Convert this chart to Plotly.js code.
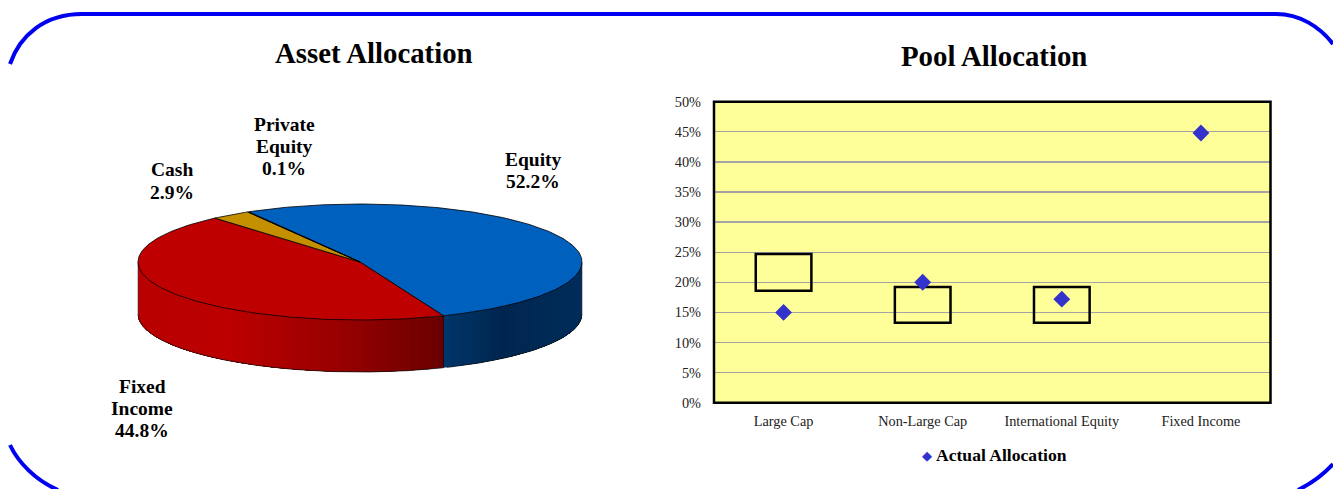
<!DOCTYPE html>
<html>
<head>
<meta charset="utf-8">
<script src="https://cdn.plot.ly/plotly-3.0.1.min.js"></script>
<style>html,body{margin:0;padding:0;background:#fff;overflow:hidden}#chart{width:1333px;height:489px}</style>
</head>
<body>
<div id="chart"></div>
<script>
// ---- data ----
const assetNames  = ["Equity", "Fixed Income", "Cash", "Private Equity"];
const assetShares = [52.2, 44.8, 2.9, 0.1];
const poolCategories = ["Large Cap", "Non-Large Cap", "International Equity", "Fixed Income"];
const actualAllocation = [15, 20, 17.2, 44.8];
const rangeLow  = [18.6, 13.3, 13.3, null];
const rangeHigh = [24.7, 19.2, 19.2, null];
const yTicks = [0,5,10,15,20,25,30,35,40,45,50];

// ---- page geometry ----
const W = 1333, H = 489;
const FONT = '"Liberation Serif","Times New Roman",serif';
const px = x => x / W, py = y => 1 - y / H;
const plot = {l:714, r:1270.5, t:101.7, b:402.7};

// pie geometry: unit ellipse mapped to pixels by the second axis pair
const pie = {cx:360, cy:262, rx:222, ry:58, depth:52, start:-30};
const pieColors = ["#0060BE", "#BE0000", "#C49000", "#C49000"];
const wallStops = [
  [[138,[184,0,0]],[230,[188,0,0]],[340,[152,0,0]],[443,[106,0,0]]],
  [[443,[0,54,106]],[500,[0,38,79]],[582,[0,44,90]]]
];
const depthUnits = pie.depth / pie.ry;
const rad = d => d * Math.PI / 180;
const ex = a => Math.sin(rad(a));
const ey = a => Math.cos(rad(a));

function wallColor(stops, a) {
  const x = pie.cx + pie.rx * ex(a);
  if (x <= stops[0][0]) return `rgb(${stops[0][1].join(',')})`;
  for (let i = 1; i < stops.length; i++) {
    if (x <= stops[i][0]) {
      const f = (x - stops[i-1][0]) / (stops[i][0] - stops[i-1][0]);
      const c = stops[i-1][1].map((v, k) => Math.round(v + (stops[i][1][k] - v) * f));
      return `rgb(${c.join(',')})`;
    }
  }
  return `rgb(${stops[stops.length-1][1].join(',')})`;
}

const pieTraces = [];
const base = {xaxis:'x2', yaxis:'y2', type:'scatter', mode:'lines', hoverinfo:'skip', showlegend:false};
const edge = 'rgba(20,20,20,0.75)';

// wedge angles from shares
let acc = pie.start;
const wedges = assetShares.map((s, i) => {
  const w = {a0:acc, a1:acc + s * 3.6, i};
  acc = w.a1;
  return w;
});

// side wall: visible only on the front half of the ellipse.
// Each strip runs from its own start to the far end of the wedge, so later strips
// paint over earlier ones with no seam between them.
wedges.forEach(w => {
  const from = Math.max(w.a0, 90), to = Math.min(w.a1, 270);
  if (to <= from) return;
  const stops = w.i === 0 ? wallStops[1] : wallStops[0];
  const step = 3;
  const dir = w.i === 0 ? -1 : 1;
  const starts = [];
  for (let a = from; a < to; a += step) starts.push(a);
  if (dir < 0) starts.reverse();
  starts.forEach(a => {
    const c = wallColor(stops, a + step / 2);
    const xs = [], ys = [];
    const lo = dir > 0 ? a : from, hi = dir > 0 ? to : Math.min(a + step, to);
    const n = Math.max(1, Math.ceil(hi - lo));
    for (let k = 0; k <= n; k++) { const t = lo + (hi - lo) * k / n; xs.push(ex(t)); ys.push(ey(t)); }
    for (let k = n; k >= 0; k--) { const t = lo + (hi - lo) * k / n; xs.push(ex(t)); ys.push(ey(t) - depthUnits); }
    xs.push(xs[0]); ys.push(ys[0]);
    pieTraces.push(Object.assign({}, base, {x:xs, y:ys, fill:'toself', fillcolor:c, line:{color:c, width:0}}));
  });
  // bottom rim
  const bx = [], by = [];
  for (let a = from; a <= to + 0.001; a += 1) { bx.push(ex(Math.min(a,to))); by.push(ey(Math.min(a,to)) - depthUnits); }
  pieTraces.push(Object.assign({}, base, {x:bx, y:by, line:{color:edge, width:1}}));
});
// vertical edges of the wall
[90, 270, wedges[0].a1].forEach(a => {
  pieTraces.push(Object.assign({}, base, {
    x:[ex(a), ex(a)], y:[ey(a), ey(a)-depthUnits],
    line:{color: a === wedges[0].a1 ? 'rgba(0,0,0,0.85)' : 'rgba(60,60,60,0.6)', width:1}
  }));
});
// top faces
wedges.forEach(w => {
  const xs = [0], ys = [0];
  const n = Math.max(2, Math.ceil(w.a1 - w.a0));
  for (let k = 0; k <= n; k++) {
    const a = w.a0 + (w.a1 - w.a0) * k / n;
    xs.push(ex(a)); ys.push(ey(a));
  }
  xs.push(0); ys.push(0);
  pieTraces.push(Object.assign({}, base, {
    x:xs, y:ys, fill:'toself', fillcolor:pieColors[w.i],
    line:{color:'rgba(0,0,0,0.8)', width:1}
  }));
});

// ---- pool allocation ----
const rangeBars = {
  type:'bar', x:poolCategories, y:rangeHigh.map((h,i) => h === null ? null : h - rangeLow[i]),
  base:rangeLow, width:0.4, xaxis:'x', yaxis:'y', showlegend:false, hoverinfo:'skip',
  marker:{color:'rgba(0,0,0,0)', line:{color:'#000', width:2.5}}
};
const actualTrace = {
  type:'scatter', mode:'markers', x:poolCategories, y:actualAllocation, xaxis:'x', yaxis:'y',
  showlegend:false, name:'Actual Allocation',
  marker:{symbol:'diamond', size:13, color:'#3333CC'}
};
const legendTrace = {
  type:'scatter', mode:'markers', x:[null], y:[null], xaxis:'x', yaxis:'y',
  name:'Actual Allocation', marker:{symbol:'diamond', size:8, color:'rgba(0,0,0,0)'}
};

// ---- text ----
const ann = (text, x, y, size, bold=true, color='#000') => ({
  text: bold ? `<b>${text}</b>` : text, xref:'paper', yref:'paper', x:px(x), y:py(y),
  xanchor:'center', yanchor:'middle', showarrow:false,
  font:{family:FONT, size:size, color:color}
});
const pct = s => s.toFixed(1) + '%';
const lines = [
  ['Asset Allocation', 374, 52.5, 28.8],
  ['Pool Allocation', 994, 56.5, 28.8],
  ['Private', 284, 124.5, 19.5],
  ['Equity', 284, 146.5, 19.5],
  [pct(assetShares[3]), 284, 168.5, 19.5],
  ['Cash', 172, 170, 19.5],
  [pct(assetShares[2]), 172, 192.5, 19.5],
  ['Equity', 533, 160, 19.5],
  [pct(assetShares[0]), 533, 181.5, 19.5],
  ['Fixed', 142, 386.5, 19.5],
  ['Income', 142, 408.5, 19.5],
  [pct(assetShares[1]), 142, 430.5, 19.5]
];
const annotations = lines.map(l => ann(l[0], l[1], l[2], l[3]));
// legend key glyph
annotations.push({text:'\u25C6', xref:'paper', yref:'paper', x:px(927), y:py(455), xanchor:'center', yanchor:'middle',
  showarrow:false, font:{family:'"DejaVu Sans"', size:13, color:'#3333CC'}});

// rounded blue frame, cut by the picture's edges
const P = (x, y) => `${px(x)},${py(y)}`;
const framePaths = [
  `M${P(10,64)} C${P(20,35)} ${P(45,14)} ${P(82,14)} L${P(1276,14)} C${P(1300,14)} ${P(1320,27)} ${P(1333,44)}`,
  `M${P(10,445)} C${P(18,462)} ${P(35,480)} ${P(58,490)}`,
  `M${P(1333,464)} C${P(1322,476)} ${P(1310,484)} ${P(1298,490)}`
];
const shapes = framePaths.map(path => ({
  type:'path', path, xref:'paper', yref:'paper', line:{color:'#0000F0', width:4}, layer:'above'
}));
shapes.push({type:'rect', xref:'x domain', yref:'y domain', x0:0, x1:1, y0:0, y1:1,
  fillcolor:'#FFFF99', line:{width:0}, layer:'below'});
shapes.push({type:'rect', xref:'x domain', yref:'y domain', x0:0, x1:1, y0:0, y1:1,
  line:{color:'#000', width:2.5}, layer:'above'});

const layout = {
  width:W, height:H, margin:{l:0, r:0, t:0, b:0, pad:0},
  paper_bgcolor:'#fff', plot_bgcolor:'rgba(0,0,0,0)',
  font:{family:FONT, color:'#222'},
  showlegend:true,
  legend:{x:px(896), y:py(454.5), xanchor:'left', yanchor:'middle', orientation:'h',
    bgcolor:'rgba(0,0,0,0)',
    font:{family:FONT, size:17.6, color:'#000', weight:'bold'}},
  xaxis:{domain:[px(plot.l), px(plot.r)], type:'category', categoryorder:'array', categoryarray:poolCategories,
    range:[-0.5, 3.5], showgrid:false, zeroline:false, showline:false, ticks:'',
    ticklabelstandoff:8, tickfont:{family:FONT, size:14.3, color:'#222'}, fixedrange:true},
  yaxis:{domain:[py(plot.b), py(plot.t)], range:[0,50], tickvals:yTicks, ticktext:yTicks.map(v => v + '%'),
    showgrid:true, gridcolor:'#A4A4A8', gridwidth:1.3, zeroline:false, showline:false, ticks:'',
    ticklabelstandoff:12, tickfont:{family:FONT, size:14.3, color:'#222'}, fixedrange:true},
  xaxis2:{domain:[0,0.5], anchor:'y2', range:[(0-pie.cx)/pie.rx, (W*0.5-pie.cx)/pie.rx], visible:false, fixedrange:true},
  yaxis2:{domain:[0,1], anchor:'x2', range:[(pie.cy-H)/pie.ry, pie.cy/pie.ry], visible:false, fixedrange:true},
  annotations, shapes
};

Plotly.newPlot('chart', [rangeBars, actualTrace, legendTrace].concat(pieTraces), layout, {displayModeBar:false, staticPlot:true});
</script>
</body>
</html>
